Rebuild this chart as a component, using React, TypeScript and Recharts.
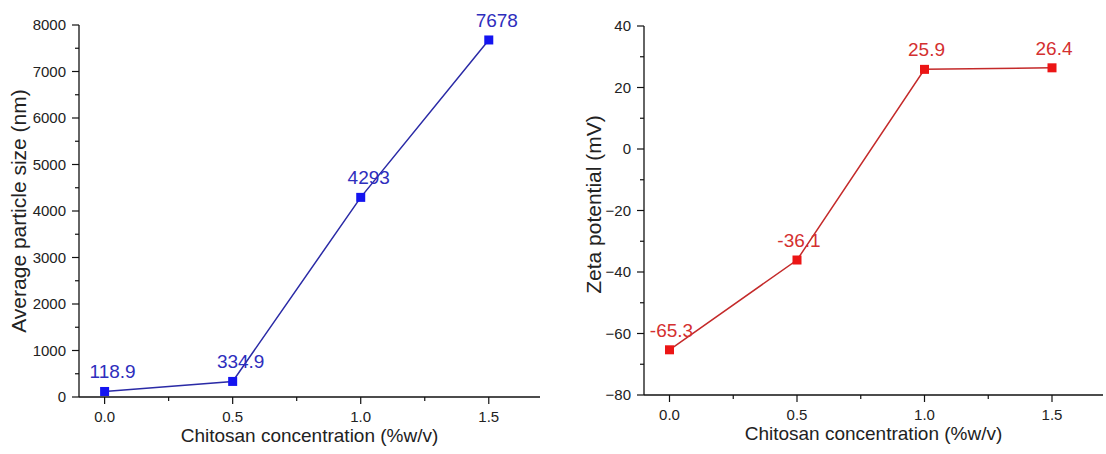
import { LineChart, Line, XAxis, YAxis, Label } from "recharts";

const concentration = [0, 0.5, 1.0, 1.5];
const particleSize = [118.9, 334.9, 4293, 7678];
const zetaPotential = [-65.3, -36.1, 25.9, 26.4];

const xMajorTicks = [0, 0.5, 1.0, 1.5];
const xMinorTicks = [0.25, 0.75, 1.25];
const sizeMajorTicks = [0, 1000, 2000, 3000, 4000, 5000, 6000, 7000, 8000];
const sizeMinorTicks = [500, 1500, 2500, 3500, 4500, 5500, 6500, 7500];
const zetaMajorTicks = [-80, -60, -40, -20, 0, 20, 40];
const zetaMinorTicks = [-70, -50, -30, -10, 10, 30];

const FONT = '"Liberation Sans", Arial, sans-serif';
const AXIS = "#111";

const sizeData = concentration.map((c, i) => ({ conc: c, value: particleSize[i] }));
const zetaData = concentration.map((c, i) => ({ conc: c, value: zetaPotential[i] }));

const fmtMinus = (v: number) => (v < 0 ? "\u2212" + Math.abs(v) : String(v));

function XTick(props: any) {
  const { x, y, payload } = props;
  const major = xMajorTicks.includes(payload.value);
  return (
    <g>
      <line x1={x} y1={y} x2={x} y2={y + (major ? 7 : 4)} stroke={AXIS} strokeWidth={1.2} />
      {major && (
        <text x={x} y={y + 24.5} textAnchor="middle" fontSize={15} fill="#222" fontFamily={FONT}>
          {payload.value.toFixed(1)}
        </text>
      )}
    </g>
  );
}

function makeYTick(majors: number[]) {
  return function YTick(props: any) {
    const { x, y, payload } = props;
    const major = majors.includes(payload.value);
    return (
      <g>
        <line x1={x - (major ? 7 : 4)} y1={y} x2={x} y2={y} stroke={AXIS} strokeWidth={1.2} />
        {major && (
          <text x={x - 13} y={y} dy="0.36em" textAnchor="end" fontSize={15} fill="#222" fontFamily={FONT}>
            {fmtMinus(payload.value)}
          </text>
        )}
      </g>
    );
  };
}

function squareDot(fill: string) {
  return (p: any) => (
    <rect key={`dot-${p.index}`} x={p.cx - 4.5} y={p.cy - 4.5} width={9} height={9} fill={fill} />
  );
}

function valueLabel(fill: string, dx: number) {
  return (p: any) => (
    <text
      key={`lbl-${p.index}`}
      x={p.x + dx}
      y={p.y - 13}
      textAnchor="middle"
      fontSize={19}
      fill={fill}
      fontFamily={FONT}
    >
      {p.value}
    </text>
  );
}

function xTitle(vb: any) {
  return (
    <text
      x={vb.x + vb.width / 2}
      y={vb.y + 45}
      textAnchor="middle"
      fontSize={19}
      fill="#222"
      fontFamily={FONT}
    >
      Chitosan concentration (%w/v)
    </text>
  );
}

function yTitle(text: string, cx: number, shift: number) {
  return (props: any) => {
    const vb = props.viewBox;
    const cy = vb.y + vb.height / 2 + shift;
    return (
      <text
        x={cx}
        y={cy}
        transform={`rotate(-90, ${cx}, ${cy})`}
        textAnchor="middle"
        dominantBaseline="central"
        fontSize={21}
        fill="#222"
        fontFamily={FONT}
      >
        {text}
      </text>
    );
  };
}

const xTicks = [...xMajorTicks, ...xMinorTicks].sort((a, b) => a - b);
const sizeTicks = [...sizeMajorTicks, ...sizeMinorTicks].sort((a, b) => a - b);
const zetaTicks = [...zetaMajorTicks, ...zetaMinorTicks].sort((a, b) => a - b);

export default function App() {
  return (
    <div
      style={{
        position: "absolute",
        left: 0,
        top: 0,
        width: 1106,
        height: 454,
        background: "#fff",
        display: "flex",
      }}
    >
      <LineChart width={560} height={454} data={sizeData} margin={{ top: 25, right: 20, bottom: 17, left: 0 }}>
        <XAxis
          dataKey="conc"
          type="number"
          domain={[-0.1, 1.7]}
          ticks={xTicks}
          interval={0}
          tickSize={0}
          tickMargin={0}
          tickLine={false}
          tick={XTick}
          height={40}
          stroke={AXIS}
          strokeWidth={1.3}
        >
          <Label content={(p: any) => xTitle(p.viewBox)} />
        </XAxis>
        <YAxis
          type="number"
          domain={[0, 8000]}
          ticks={sizeTicks}
          interval={0}
          tickSize={0}
          tickMargin={0}
          tickLine={false}
          tick={makeYTick(sizeMajorTicks)}
          width={79}
          stroke={AXIS}
          strokeWidth={1.3}
        >
          <Label content={yTitle("Average particle size (nm)", 18, 0)} />
        </YAxis>
        <Line
          dataKey="value"
          stroke="#2a2aa6"
          strokeWidth={1.5}
          dot={squareDot("#1414f0")}
          label={valueLabel("#2e2ebd", 8)}
          isAnimationActive={false}
        />
      </LineChart>
      <LineChart width={546} height={454} data={zetaData} margin={{ top: 26, right: 3, bottom: 19, left: 0 }}>
        <XAxis
          dataKey="conc"
          type="number"
          domain={[-0.1, 1.7]}
          ticks={xTicks}
          interval={0}
          tickSize={0}
          tickMargin={0}
          tickLine={false}
          tick={XTick}
          height={40}
          stroke={AXIS}
          strokeWidth={1.3}
        >
          <Label content={(p: any) => xTitle(p.viewBox)} />
        </XAxis>
        <YAxis
          type="number"
          domain={[-80, 40]}
          ticks={zetaTicks}
          interval={0}
          tickSize={0}
          tickMargin={0}
          tickLine={false}
          tick={makeYTick(zetaMajorTicks)}
          width={84}
          stroke={AXIS}
          strokeWidth={1.3}
        >
          <Label content={yTitle("Zeta potential (mV)", 33, -6)} />
        </YAxis>
        <Line
          dataKey="value"
          stroke="#c42a2a"
          strokeWidth={1.5}
          dot={squareDot("#ec1515")}
          label={valueLabel("#d43030", 2)}
          isAnimationActive={false}
        />
      </LineChart>
    </div>
  );
}
